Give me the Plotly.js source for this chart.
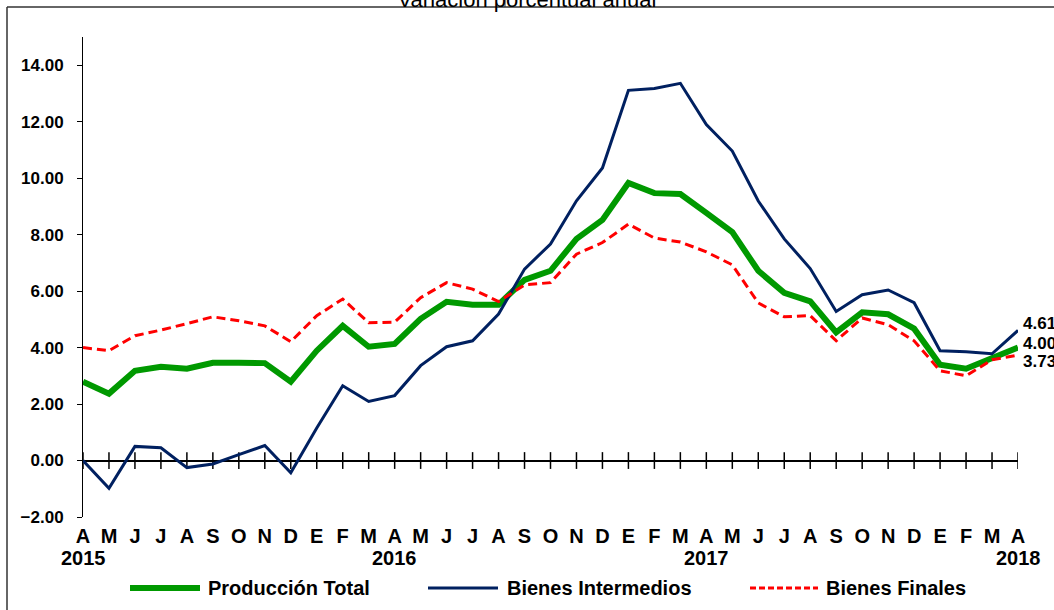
<!DOCTYPE html>
<html>
<head>
<meta charset="utf-8">
<script src="https://cdn.plot.ly/plotly-3.0.1.min.js"></script>
<style>
html,body{margin:0;padding:0;background:#fff;}
#chart{width:1054px;height:610px;}
</style>
</head>
<body>
<div id="chart"></div>
<script>
// ---- Data ----
const months = ["A","M","J","J","A","S","O","N","D","E","F","M",
                "A","M","J","J","A","S","O","N","D","E","F","M",
                "A","M","J","J","A","S","O","N","D","E","F","M","A"];
const yearLabels = ["2015","2016","2017","2018"];
const yearIndex = [0,12,24,36];
const seriesNames = ["Producción Total","Bienes Intermedios","Bienes Finales"];

const produccionTotal = [2.79,2.37,3.18,3.32,3.25,3.46,3.46,3.45,2.79,3.89,4.77,4.03,
                         4.13,5.02,5.62,5.52,5.52,6.40,6.72,7.85,8.52,9.83,9.47,9.44,
                         8.77,8.09,6.72,5.94,5.64,4.54,5.25,5.18,4.67,3.39,3.25,3.65,4.00];
const bienesIntermedios = [0.00,-0.98,0.50,0.45,-0.25,-0.12,0.21,0.53,-0.43,1.15,2.65,2.09,
                           2.30,3.36,4.03,4.24,5.19,6.78,7.67,9.20,10.36,13.11,13.18,13.36,
                           11.90,10.96,9.19,7.85,6.80,5.28,5.87,6.04,5.59,3.89,3.85,3.78,4.61];
const bienesFinales = [4.00,3.89,4.42,4.62,4.85,5.09,4.95,4.77,4.21,5.13,5.72,4.88,
                       4.90,5.77,6.30,6.07,5.63,6.22,6.30,7.31,7.72,8.37,7.88,7.74,
                       7.39,6.93,5.58,5.09,5.13,4.24,5.05,4.81,4.24,3.18,3.00,3.57,3.73];
const yTicks = [-2,0,2,4,6,8,10,12,14];

// ---- Style ----
const colors = ["#009900","#002060","#ff0000"];
const widths = [6,3,3];
const dashes = ["solid","solid","9px,5px"];
const FONT = "Arial, 'Liberation Sans', sans-serif";

const idx = months.map((_, i) => i);
const allSeries = [produccionTotal, bienesIntermedios, bienesFinales];

// plot geometry (pixels)
const W = 1054, H = 610, L = 83, R = 36, T = 37, B = 93;
const PW = W - L - R, PH = H - T - B;
const px2x = p => (p - L) / PW;
const py2y = p => (H - B - p) / PH;

const traces = allSeries.map((s, k) => ({
  x: idx, y: s, type: "scatter", mode: "lines", name: seriesNames[k],
  line: {color: colors[k], width: widths[k], dash: dashes[k]},
  showlegend: false, hoverinfo: "x+y"
}));

// x-axis cross ticks on the zero line
traces.unshift({
  x: idx, y: idx.map(() => 0), type: "scatter", mode: "markers",
  marker: {symbol: "line-ns-open", size: 12, color: "#000", line: {color: "#000", width: 1.5}},
  showlegend: false, hoverinfo: "skip"
});

const annotations = [];
// year labels
yearLabels.forEach((t, i) => annotations.push({
  x: yearIndex[i], xref: "x", y: py2y(558), yref: "paper",
  text: t, showarrow: false, xanchor: "center", yanchor: "middle",
  font: {family: FONT, size: 20, weight: 700, color: "#000"}
}));
// end value labels
const endShift = [4, 7, -6.5];
allSeries.forEach((s, k) => annotations.push({
  x: idx[idx.length - 1], xref: "x", y: s[s.length - 1], yref: "y",
  text: s[s.length - 1].toFixed(2), showarrow: false, xanchor: "left", yanchor: "middle",
  xshift: 3, yshift: endShift[k],
  font: {family: FONT, size: 17, weight: 700, color: "#000"}
}));

// manual legend
const legLine = [[130,200],[428,498],[750,818]];
const legText = [206,505,824];
const legY = py2y(588);
const shapes = [];
seriesNames.forEach((n, k) => {
  shapes.push({type: "line", xref: "paper", yref: "paper",
    x0: px2x(legLine[k][0]), x1: px2x(legLine[k][1]), y0: legY, y1: legY,
    line: {color: colors[k], width: widths[k], dash: k === 2 ? "6px,3px" : "solid"}});
  annotations.push({x: px2x(legText[k]), xref: "paper", y: legY, yref: "paper",
    text: n, showarrow: false, xanchor: "left", yanchor: "middle",
    font: {family: FONT, size: 20, weight: 700, color: "#000"}});
});
// outer frame
shapes.push({type: "line", xref: "paper", yref: "paper",
  x0: px2x(7), x1: px2x(1060), y0: py2y(7), y1: py2y(7), line: {color: "#666", width: 2}});
shapes.push({type: "line", xref: "paper", yref: "paper",
  x0: px2x(7), x1: px2x(7), y0: py2y(7), y1: py2y(615), line: {color: "#333", width: 1.5}});
shapes.push({type: "line", xref: "paper", yref: "paper",
  x0: px2x(505), x1: px2x(505), y0: py2y(0), y1: py2y(7), line: {color: "#333", width: 1}});

const layout = {
  width: W, height: H,
  margin: {l: L, r: R, t: T, b: B, pad: 0},
  paper_bgcolor: "#fff", plot_bgcolor: "#fff",
  font: {family: FONT, color: "#000"},
  title: {text: "Variación porcentual anual", font: {family: FONT, size: 22, color: "#000"},
          x: 0.5, xref: "container", xanchor: "center",
          y: 1 - 7 / H, yref: "container", yanchor: "bottom"},
  xaxis: {range: [0, 36], tickvals: idx, ticktext: months, tickmode: "array",
          showgrid: false, zeroline: false, showline: false, ticks: "",
          ticklabelstandoff: 5,
          tickfont: {family: FONT, size: 20, weight: 700, color: "#000"}, fixedrange: true},
  yaxis: {range: [-2, 15], tickvals: yTicks, tickmode: "array", tickformat: ".2f",
          showgrid: false, zeroline: true, zerolinecolor: "#000", zerolinewidth: 2,
          showline: true, linecolor: "#000", linewidth: 1,
          ticks: "outside", ticklen: 5, tickcolor: "#000", tickwidth: 1,
          ticklabelstandoff: 10,
          tickfont: {family: FONT, size: 17, weight: 700, color: "#000"}, fixedrange: true},
  showlegend: false,
  annotations: annotations,
  shapes: shapes
};

Plotly.newPlot("chart", traces, layout, {displayModeBar: false, staticPlot: true});
</script>
</body>
</html>
